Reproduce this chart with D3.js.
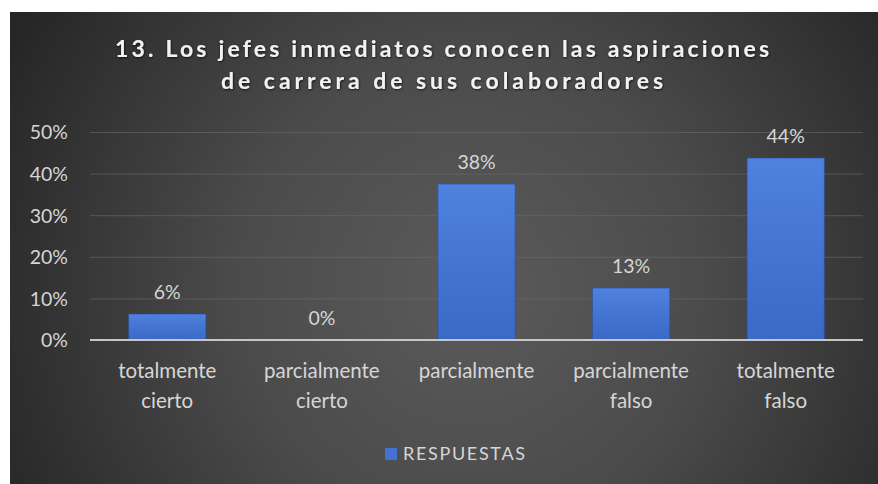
<!DOCTYPE html>
<html>
<head>
<meta charset="utf-8">
<script src="https://cdn.jsdelivr.net/npm/d3@7"></script>
<style>
  html, body { margin: 0; padding: 0; background: #ffffff; }
  svg { display: block; }
</style>
</head>
<body>
<svg id="chart" width="878" height="484"></svg>
<script>
// Survey answers: share of respondents per response option
const categories = [
  ["totalmente", "cierto"],
  ["parcialmente", "cierto"],
  ["parcialmente"],
  ["parcialmente", "falso"],
  ["totalmente", "falso"]
];
const values = [0.0625, 0, 0.375, 0.125, 0.4375];
const yTicks = [0, 0.1, 0.2, 0.3, 0.4, 0.5];
const titleLines = [
  "13. Los jefes inmediatos conocen las aspiraciones",
  "de carrera de sus colaboradores"
];
const seriesName = "RESPUESTAS";

const W = 878, H = 484;
const font = "Lato, 'Open Sans', sans-serif";
const svg = d3.select("#chart");
const defs = svg.append("defs");

// Dark panel with a soft radial highlight toward the middle
const bg = defs.append("radialGradient")
  .attr("id", "bgGrad")
  .attr("gradientUnits", "userSpaceOnUse")
  .attr("cx", 470).attr("cy", 290).attr("r", 520);
bg.append("stop").attr("offset", "0").attr("stop-color", "#5b5b5b");
bg.append("stop").attr("offset", "0.45").attr("stop-color", "#4b4b4b");
bg.append("stop").attr("offset", "1").attr("stop-color", "#262626");

const barGrad = defs.append("linearGradient")
  .attr("id", "barGrad").attr("x1", 0).attr("y1", 0).attr("x2", 0).attr("y2", 1);
barGrad.append("stop").attr("offset", "0").attr("stop-color", "#4f81df");
barGrad.append("stop").attr("offset", "1").attr("stop-color", "#3a69c6");

const shadow = defs.append("filter").attr("id", "txtShadow")
  .attr("x", "-5%").attr("y", "-30%").attr("width", "110%").attr("height", "160%");
shadow.append("feDropShadow").attr("dx", 0.6).attr("dy", 0.8)
  .attr("stdDeviation", 0.9).attr("flood-color", "#000").attr("flood-opacity", 0.8);

svg.append("rect")
  .attr("x", 10).attr("y", 12).attr("width", W - 10).attr("height", H - 12)
  .attr("fill", "url(#bgGrad)");

// Title
const title = svg.append("g").attr("filter", "url(#txtShadow)");
const titleLayout = [{y: 57, len: 654}, {y: 89, len: 442}];
titleLines.forEach((t, i) => {
  title.append("text")
    .attr("x", 442).attr("y", titleLayout[i].y)
    .attr("text-anchor", "middle")
    .attr("font-family", font).attr("font-weight", 700)
    .attr("font-size", 23)
    .attr("fill", "#f2f2f2")
    .attr("textLength", titleLayout[i].len)
    .attr("lengthAdjust", "spacing")
    .text(t);
});

// Scales
const x = d3.scaleBand()
  .domain(d3.range(values.length))
  .range([90, 863])
  .paddingInner(0.5).paddingOuter(0.25);
const y = d3.scaleLinear().domain([0, 0.5]).range([340, 132]);
const pct = d3.format(".0%");

// Gridlines and value axis labels
const yAxis = d3.axisLeft(y).tickValues(yTicks).tickFormat(pct)
  .tickSize(-(863 - 90)).tickPadding(22);
const gy = svg.append("g").attr("transform", "translate(90,0)").call(yAxis);
gy.select(".domain").remove();
gy.selectAll(".tick line").attr("stroke", "#6a6a6a").attr("stroke-width", 1).attr("opacity", 0.6);
gy.selectAll(".tick text")
  .attr("font-family", font).attr("font-size", 19.5)
  .attr("fill", "#d6d6d6").attr("dy", "0.35em");

// Bars
svg.append("g").selectAll("rect")
  .data(values)
  .join("rect")
  .attr("x", (d, i) => x(i))
  .attr("y", d => y(d))
  .attr("width", x.bandwidth())
  .attr("height", d => y(0) - y(d))
  .attr("fill", "url(#barGrad)")
  .attr("stroke", "#2a4f96").attr("stroke-width", 1).attr("stroke-opacity", 0.6);

// Category axis line
svg.append("line")
  .attr("x1", 90).attr("x2", 863)
  .attr("y1", y(0)).attr("y2", y(0))
  .attr("stroke", "#c6c6c6").attr("stroke-width", 2);

// Value labels
svg.append("g").selectAll("text")
  .data(values)
  .join("text")
  .attr("x", (d, i) => x(i) + x.bandwidth() / 2)
  .attr("y", d => y(d) - 15)
  .attr("text-anchor", "middle")
  .attr("font-family", font).attr("font-size", 19.5)
  .attr("fill", "#d6d6d6")
  .text(d => pct(d));

// Category labels
const xl = svg.append("g").selectAll("text")
  .data(categories)
  .join("text")
  .attr("x", (d, i) => x(i) + x.bandwidth() / 2)
  .attr("y", 378)
  .attr("text-anchor", "middle")
  .attr("font-family", font).attr("font-size", 20.5)
  .attr("fill", "#d6d6d6");
xl.selectAll("tspan")
  .data(d => d)
  .join("tspan")
  .attr("x", function () { return d3.select(this.parentNode).attr("x"); })
  .attr("dy", (d, i) => i === 0 ? 0 : 30)
  .text(d => d);

// Legend
const lg = svg.append("g");
lg.append("rect")
  .attr("x", 385).attr("y", 448).attr("width", 12).attr("height", 12)
  .attr("fill", "#4472d4");
lg.append("text")
  .attr("x", 403).attr("y", 460)
  .attr("font-family", font).attr("font-size", 18)
  .attr("fill", "#d6d6d6")
  .attr("textLength", 122).attr("lengthAdjust", "spacing")
  .text(seriesName);
</script>
</body>
</html>
